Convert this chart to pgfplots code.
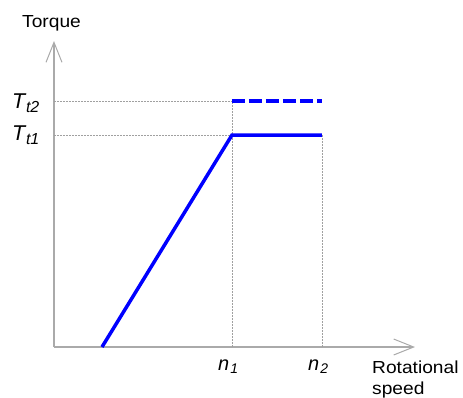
\documentclass[border=0pt]{standalone}
\usepackage{fontspec}
\setmainfont{Liberation Sans}
\newfontfamily\lab[FakeStretch=1.1]{Liberation Sans}
\usepackage{pgfplots}
\pgfplotsset{compat=1.18}
\usetikzlibrary{arrows.meta}
\definecolor{axgray}{HTML}{AAAAAA}
\definecolor{refgray}{HTML}{A0A0A0}
\begin{document}
\begin{tikzpicture}
\useasboundingbox (-54bp,-51bp) rectangle (409bp,347bp);
\begin{axis}[
  at={(0,0)}, anchor=origin,
  x=1bp, y=1bp,
  xmin=0, xmax=361, ymin=0, ymax=306,
  axis lines=left,
  axis line style={axgray, line width=1.3bp, -{Straight Barb[length=20bp,width=16bp,line width=1bp]}},
  xtick=\empty, ytick=\empty,
  clip=false,
]
% reference lines
\addplot[refgray, line width=0.6bp, dash pattern=on 2bp off 1bp] coordinates {(0,246) (178,246)};
\addplot[refgray, line width=0.6bp, dash pattern=on 2bp off 1bp] coordinates {(0,212) (178,212)};
\addplot[refgray, line width=0.6bp, dash pattern=on 2bp off 1bp] coordinates {(178,0) (178,246)};
\addplot[refgray, line width=0.6bp, dash pattern=on 2bp off 1bp] coordinates {(268,0) (268,212)};
% curves
\addplot[blue, line width=3.5bp, line join=miter] coordinates {(48,0) (178,212) (268,212)};
\addplot[blue, line width=3.5bp, dash pattern=on 13bp off 4bp] coordinates {(178,246) (268,246)};
% labels
\node[anchor=base west, inner sep=0pt, font=\fontsize{21.5}{21.5}\selectfont] at (axis cs:-42,239) {\textit{T}\kern-0.5bp\raisebox{-4bp}{\fontsize{16}{16}\selectfont\textit{t2}}};
\node[anchor=base west, inner sep=0pt, font=\fontsize{21.5}{21.5}\selectfont] at (axis cs:-42,207) {\textit{T}\kern-0.5bp\raisebox{-4bp}{\fontsize{16}{16}\selectfont\textit{t1}}};
\node[anchor=base west, inner sep=0pt, font=\fontsize{20}{20}\selectfont] at (axis cs:164,-23) {\textit{n}\kern1bp\raisebox{-3bp}{\fontsize{14}{14}\selectfont\textit{1}}};
\node[anchor=base west, inner sep=0pt, font=\fontsize{20}{20}\selectfont] at (axis cs:254,-23) {\textit{n}\kern1bp\raisebox{-3bp}{\fontsize{14}{14}\selectfont\textit{2}}};
\node[anchor=base west, inner sep=0pt, font=\lab\fontsize{17.5}{17.5}\selectfont] at (axis cs:-32,320) {Torque};
\node[anchor=base west, inner sep=0pt, font=\lab\fontsize{17.5}{17.5}\selectfont] at (axis cs:318,-26) {Rotational};
\node[anchor=base west, inner sep=0pt, font=\lab\fontsize{17.5}{17.5}\selectfont] at (axis cs:318,-47) {speed};
\end{axis}
\end{tikzpicture}
\end{document}
